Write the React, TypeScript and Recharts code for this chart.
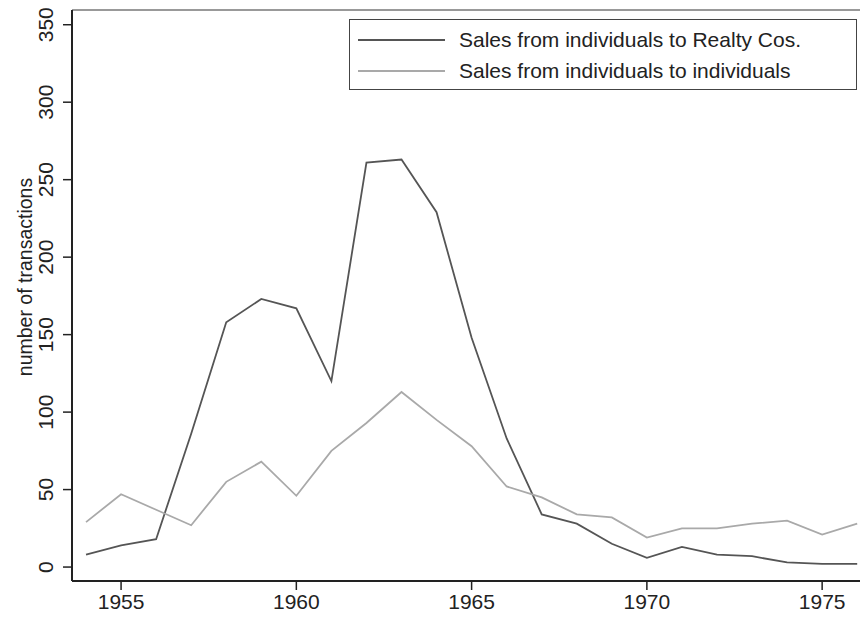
import React from 'react'
import { LineChart, Line, XAxis, YAxis, Legend } from 'recharts'

const years = [1954, 1955, 1956, 1957, 1958, 1959, 1960, 1961, 1962, 1963, 1964, 1965, 1966, 1967, 1968, 1969, 1970, 1971, 1972, 1973, 1974, 1975, 1976]
const realtyCos = [8, 14, 18, 86, 158, 173, 167, 120, 261, 263, 229, 148, 83, 34, 28, 15, 6, 13, 8, 7, 3, 2, 2]
const individuals = [29, 47, 37, 27, 55, 68, 46, 75, 93, 113, 95, 78, 52, 45, 34, 32, 19, 25, 25, 28, 30, 21, 28]

const xTicks = [1955, 1960, 1965, 1970, 1975]
const yTicks = [0, 50, 100, 150, 200, 250, 300, 350]

const FONT = '"Liberation Sans", Arial, Helvetica, sans-serif'
const DARK = '#555555'
const LIGHT = '#a9a9a9'

const data = years.map((year, i) => ({
  year,
  realty: realtyCos[i],
  indiv: individuals[i],
}))

const YTick = (props: any) => {
  const { y, payload } = props
  const x = 53
  return (
    <text x={x} y={y} transform={`rotate(-90, ${x}, ${y})`} textAnchor="middle"
      fontSize={21} fontFamily={FONT} fill="#222">
      {payload.value}
    </text>
  )
}

const YTitle = () => (
  <text x={32} y={277} transform="rotate(-90, 32, 277)" textAnchor="middle"
    fontSize={19.5} fontFamily={FONT} fill="#222">
    number of transactions
  </text>
)

const LegendBox = (props: any) => {
  const { payload } = props
  return (
    <div style={{
      border: '1px solid #444', width: 506, height: 69, boxSizing: 'content-box',
      fontFamily: FONT, fontSize: 21, color: '#222', background: '#fff',
    }}>
      {(payload || []).map((p: any, i: number) => (
        <div key={i} style={{ display: 'flex', alignItems: 'center', height: 31, marginTop: i === 0 ? 4 : 0 }}>
          <svg width={100} height={10} style={{ marginLeft: 8 }}>
            <line x1={0} x2={87} y1={5} y2={5} stroke={p.color} strokeWidth={1.8} />
          </svg>
          <span style={{ marginLeft: 1 }}>{p.value}</span>
        </div>
      ))}
    </div>
  )
}

export default function App() {
  return (
    <div style={{ position: 'absolute', left: 0, top: 0, background: '#fff' }}>
      <LineChart width={860} height={617} data={data}
        margin={{ top: 9, right: 0, left: 0, bottom: 0 }}>
        <XAxis dataKey="year" type="number" domain={[1953.6, 1976.08]} ticks={xTicks}
          allowDataOverflow height={36} tickSize={9} tickMargin={4}
          axisLine={{ stroke: '#222', strokeWidth: 2 }} tickLine={{ stroke: '#222', strokeWidth: 1.5 }}
          tick={{ fontSize: 21, fontFamily: FONT, fill: '#222' }} />
        <XAxis xAxisId="top" orientation="top" type="number" domain={[1953.6, 1976.08]}
          height={1} tick={false} tickLine={false} axisLine={{ stroke: '#777', strokeWidth: 1.5 }} />
        <YAxis type="number" domain={[-9, 359.5]} ticks={yTicks} allowDataOverflow width={72}
          tickSize={9} axisLine={{ stroke: '#222', strokeWidth: 2 }}
          tickLine={{ stroke: '#222', strokeWidth: 1.5 }} tick={<YTick />}
          label={<YTitle />} />
        <Legend layout="vertical" verticalAlign="middle" align="center" content={<LegendBox />}
          wrapperStyle={{ position: 'absolute', left: 349, top: 19, width: 508 }} />
        <Line type="linear" dataKey="realty" name="Sales from individuals to Realty Cos."
          stroke={DARK} strokeWidth={1.8} dot={false} isAnimationActive={false} />
        <Line type="linear" dataKey="indiv" name="Sales from individuals to individuals"
          stroke={LIGHT} strokeWidth={1.8} dot={false} isAnimationActive={false} />
      </LineChart>
    </div>
  )
}
